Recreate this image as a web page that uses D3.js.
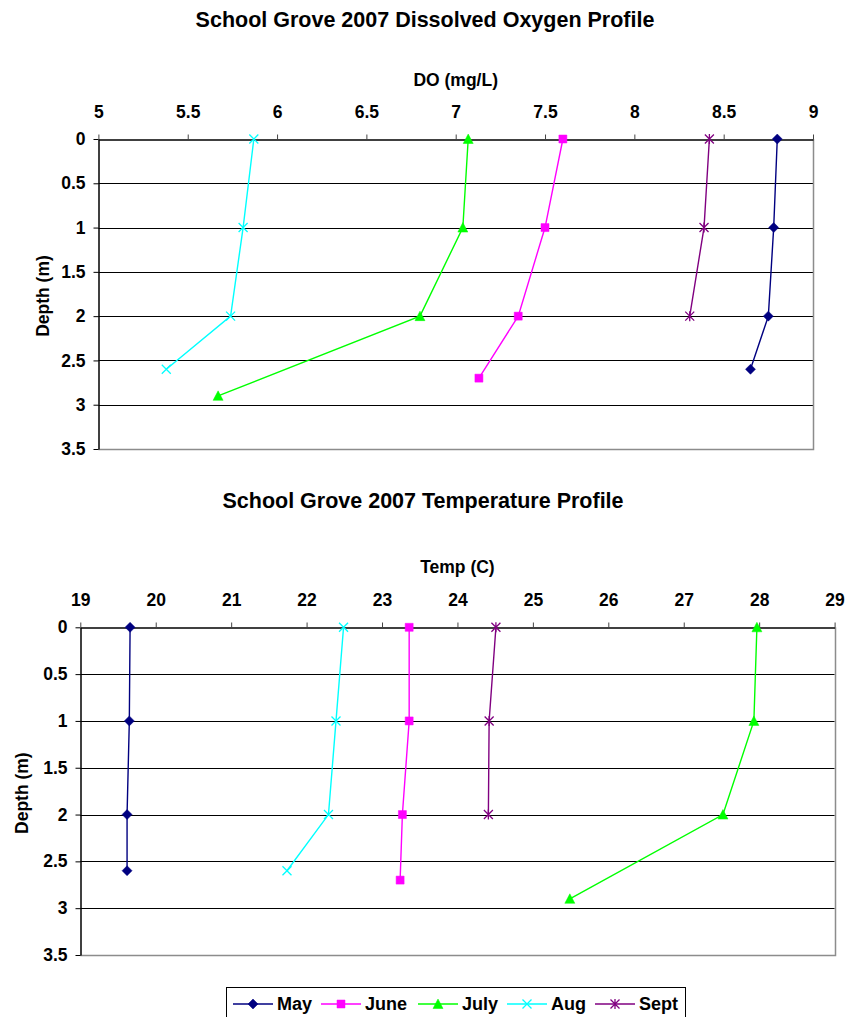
<!DOCTYPE html>
<html>
    <head>
        <title>School Grove 2007 Profiles</title>
        <meta charset="UTF-8">
        <script type="text/javascript" src="https://cdn.jsdelivr.net/npm/d3@7"></script>
        <style type="text/css">
            body { margin: 0; background: #fff; }
            svg text { font-family: Arial, "Liberation Sans", sans-serif; font-weight: bold; fill: #000; }
        </style>
    </head>
    <body>
        <div id="chart"></div>

        <script type="text/javascript">
            // ---- data ----
            var months = ["May", "June", "July", "Aug", "Sept"];
            var colors = ["#000080", "#FF00FF", "#00FF00", "#00FFFF", "#800080"];
            var markers = ["diamond", "square", "triangle", "x", "star"];

            // sample depths (m) for each month
            var depthMay = [0, 1, 2, 2.6];
            var depthJune = [0, 1, 2, 2.7];
            var depthJuly = [0, 1, 2, 2.9];
            var depthAug = [0, 1, 2, 2.6];
            var depthSept = [0, 1, 2];

            // dissolved oxygen (mg/L)
            var doMay = [8.8, 8.78, 8.75, 8.65];
            var doJune = [7.6, 7.5, 7.35, 7.13];
            var doJuly = [7.07, 7.04, 6.8, 5.67];
            var doAug = [5.87, 5.81, 5.74, 5.38];
            var doSept = [8.42, 8.39, 8.31];

            // temperature (C)
            var tempMay = [19.66, 19.65, 19.62, 19.62];
            var tempJune = [23.36, 23.36, 23.27, 23.24];
            var tempJuly = [27.97, 27.93, 27.52, 25.49];
            var tempAug = [22.49, 22.39, 22.29, 21.74];
            var tempSept = [24.51, 24.42, 24.41];

            var depthTicks = [0, 0.5, 1, 1.5, 2, 2.5, 3, 3.5];
            var doTicks = [5, 5.5, 6, 6.5, 7, 7.5, 8, 8.5, 9];
            var tempTicks = [19, 20, 21, 22, 23, 24, 25, 26, 27, 28, 29];

            var depths = [depthMay, depthJune, depthJuly, depthAug, depthSept];
            var doSeries = [doMay, doJune, doJuly, doAug, doSept];
            var tempSeries = [tempMay, tempJune, tempJuly, tempAug, tempSept];

            var svgW = 846, svgH = 1017;
            var svg = d3.select("#chart").append("svg")
                    .attr("width", svgW)
                    .attr("height", svgH);

            // marker path for each type, centred on 0,0
            function markerPath(type) {
                switch (type) {
                    case "diamond": return "M0,-5L5,0L0,5L-5,0Z";
                    case "square": return "M-4,-4H4V4H-4Z";
                    case "triangle": return "M0,-5L5,4.5L-5,4.5Z";
                    case "x": return "M-4.5,-4.5L4.5,4.5M-4.5,4.5L4.5,-4.5";
                    case "star": return "M-4.5,-4.5L4.5,4.5M-4.5,4.5L4.5,-4.5M0,-5V5";
                }
            }
            function isFilled(type) {
                return type === "diamond" || type === "square" || type === "triangle";
            }

            function drawMarker(g, type, color, x, y) {
                g.append("path")
                        .attr("d", markerPath(type))
                        .attr("transform", "translate(" + x + "," + y + ")")
                        .attr("fill", isFilled(type) ? color : "none")
                        .attr("stroke", color)
                        .attr("stroke-width", isFilled(type) ? 0.5 : 1.3);
            }

            function drawProfile(opt) {
                var x = d3.scaleLinear().domain(opt.xDomain).range([opt.left, opt.right]);
                var y = d3.scaleLinear().domain([0, 3.5]).range([opt.top, opt.bottom]);

                var g = svg.append("g");

                g.append("text")
                        .attr("x", opt.titleX)
                        .attr("y", opt.titleY)
                        .attr("text-anchor", "middle")
                        .style("font-size", "21.5px")
                        .text(opt.title);

                g.append("text")
                        .attr("x", (opt.left + opt.right) / 2)
                        .attr("y", opt.xTitleY)
                        .attr("text-anchor", "middle")
                        .style("font-size", "17.5px")
                        .text(opt.xTitle);

                g.append("text")
                        .attr("transform", "translate(" + opt.yTitleX + "," + ((opt.top + opt.bottom) / 2 + 2) + ") rotate(-90)")
                        .attr("text-anchor", "middle")
                        .attr("dy", "0.35em")
                        .style("font-size", "17.5px")
                        .text("Depth (m)");

                // horizontal gridlines
                g.selectAll(".grid")
                        .data(depthTicks.slice(1, -1))
                        .enter()
                        .append("line")
                        .attr("x1", opt.left)
                        .attr("x2", opt.right)
                        .attr("y1", function (d) { return Math.round(y(d)) + 0.5; })
                        .attr("y2", function (d) { return Math.round(y(d)) + 0.5; })
                        .attr("stroke", "#000")
                        .attr("stroke-width", 1);

                // plot border (right and bottom in grey)
                g.append("path")
                        .attr("d", "M" + (Math.round(opt.right) + 0.5) + "," + opt.top + "V" + (Math.round(opt.bottom) + 0.5) + "H" + opt.left)
                        .attr("fill", "none")
                        .attr("stroke", "#8c8c8c")
                        .attr("stroke-width", 1.5);

                // top axis
                var xAxis = d3.axisTop(x)
                        .tickValues(opt.xTicks)
                        .tickSize(5)
                        .tickPadding(17)
                        .tickSizeOuter(0)
                        .tickFormat(d3.format("~g"));
                var gx = g.append("g")
                        .attr("transform", "translate(0," + (Math.round(opt.top) + 0.5) + ")")
                        .call(xAxis);
                gx.selectAll("text").style("font-size", "17.5px").attr("font-family", null);
                gx.select(".domain").attr("stroke", "#000").attr("stroke-width", 1.5);
                gx.selectAll(".tick line").attr("stroke", "#444");

                // left axis
                var yAxis = d3.axisLeft(y)
                        .tickValues(depthTicks)
                        .tickSize(5)
                        .tickPadding(opt.yPad)
                        .tickSizeOuter(0)
                        .tickFormat(d3.format("~g"));
                var gy = g.append("g")
                        .attr("transform", "translate(" + (Math.round(opt.left) + 0.5) + ",0)")
                        .call(yAxis);
                gy.selectAll("text").style("font-size", "17.5px").attr("font-family", null);
                gy.select(".domain").attr("stroke", "#000").attr("stroke-width", 1.5);
                gy.selectAll(".tick line").attr("stroke", "#000");

                var line = d3.line()
                        .x(function (d) { return x(d[0]); })
                        .y(function (d) { return y(d[1]); });

                opt.series.forEach(function (vals, i) {
                    var pts = vals.map(function (v, k) { return [v, depths[i][k]]; });
                    g.append("path")
                            .datum(pts)
                            .attr("d", line)
                            .attr("fill", "none")
                            .attr("stroke", colors[i])
                            .attr("stroke-width", 1.4);
                    pts.forEach(function (p) {
                        drawMarker(g, markers[i], colors[i], x(p[0]), y(p[1]));
                    });
                });
            }

            drawProfile({
                title: "School Grove 2007 Dissolved Oxygen Profile",
                xTitle: "DO (mg/L)",
                xDomain: [5, 9],
                xTicks: doTicks,
                series: doSeries,
                left: 98.4, right: 813, top: 139, bottom: 449,
                titleX: 425, titleY: 27,
                xTitleY: 86,
                yTitleX: 42.5,
                yPad: 8
            });

            drawProfile({
                title: "School Grove 2007 Temperature Profile",
                xTitle: "Temp (C)",
                xDomain: [19, 29],
                xTicks: tempTicks,
                series: tempSeries,
                left: 80.3, right: 834.6, top: 627.3, bottom: 955,
                titleX: 423, titleY: 508,
                xTitleY: 573,
                yTitleX: 21.7,
                yPad: 8
            });

            // legend
            var legend = svg.append("g");
            legend.append("rect")
                    .attr("x", 226.5)
                    .attr("y", 987.5)
                    .attr("width", 459)
                    .attr("height", 40)
                    .attr("fill", "#fff")
                    .attr("stroke", "#000")
                    .attr("stroke-width", 1);

            var legendX = [233, 321, 418, 507, 595];
            months.forEach(function (m, i) {
                var lx = legendX[i];
                legend.append("line")
                        .attr("x1", lx)
                        .attr("x2", lx + 40)
                        .attr("y1", 1004)
                        .attr("y2", 1004)
                        .attr("stroke", colors[i])
                        .attr("stroke-width", 1.4);
                drawMarker(legend, markers[i], colors[i], lx + 20, 1004);
                legend.append("text")
                        .attr("x", lx + 44)
                        .attr("y", 1010)
                        .style("font-size", "18px")
                        .text(m);
            });
        </script>
    </body>
</html>
